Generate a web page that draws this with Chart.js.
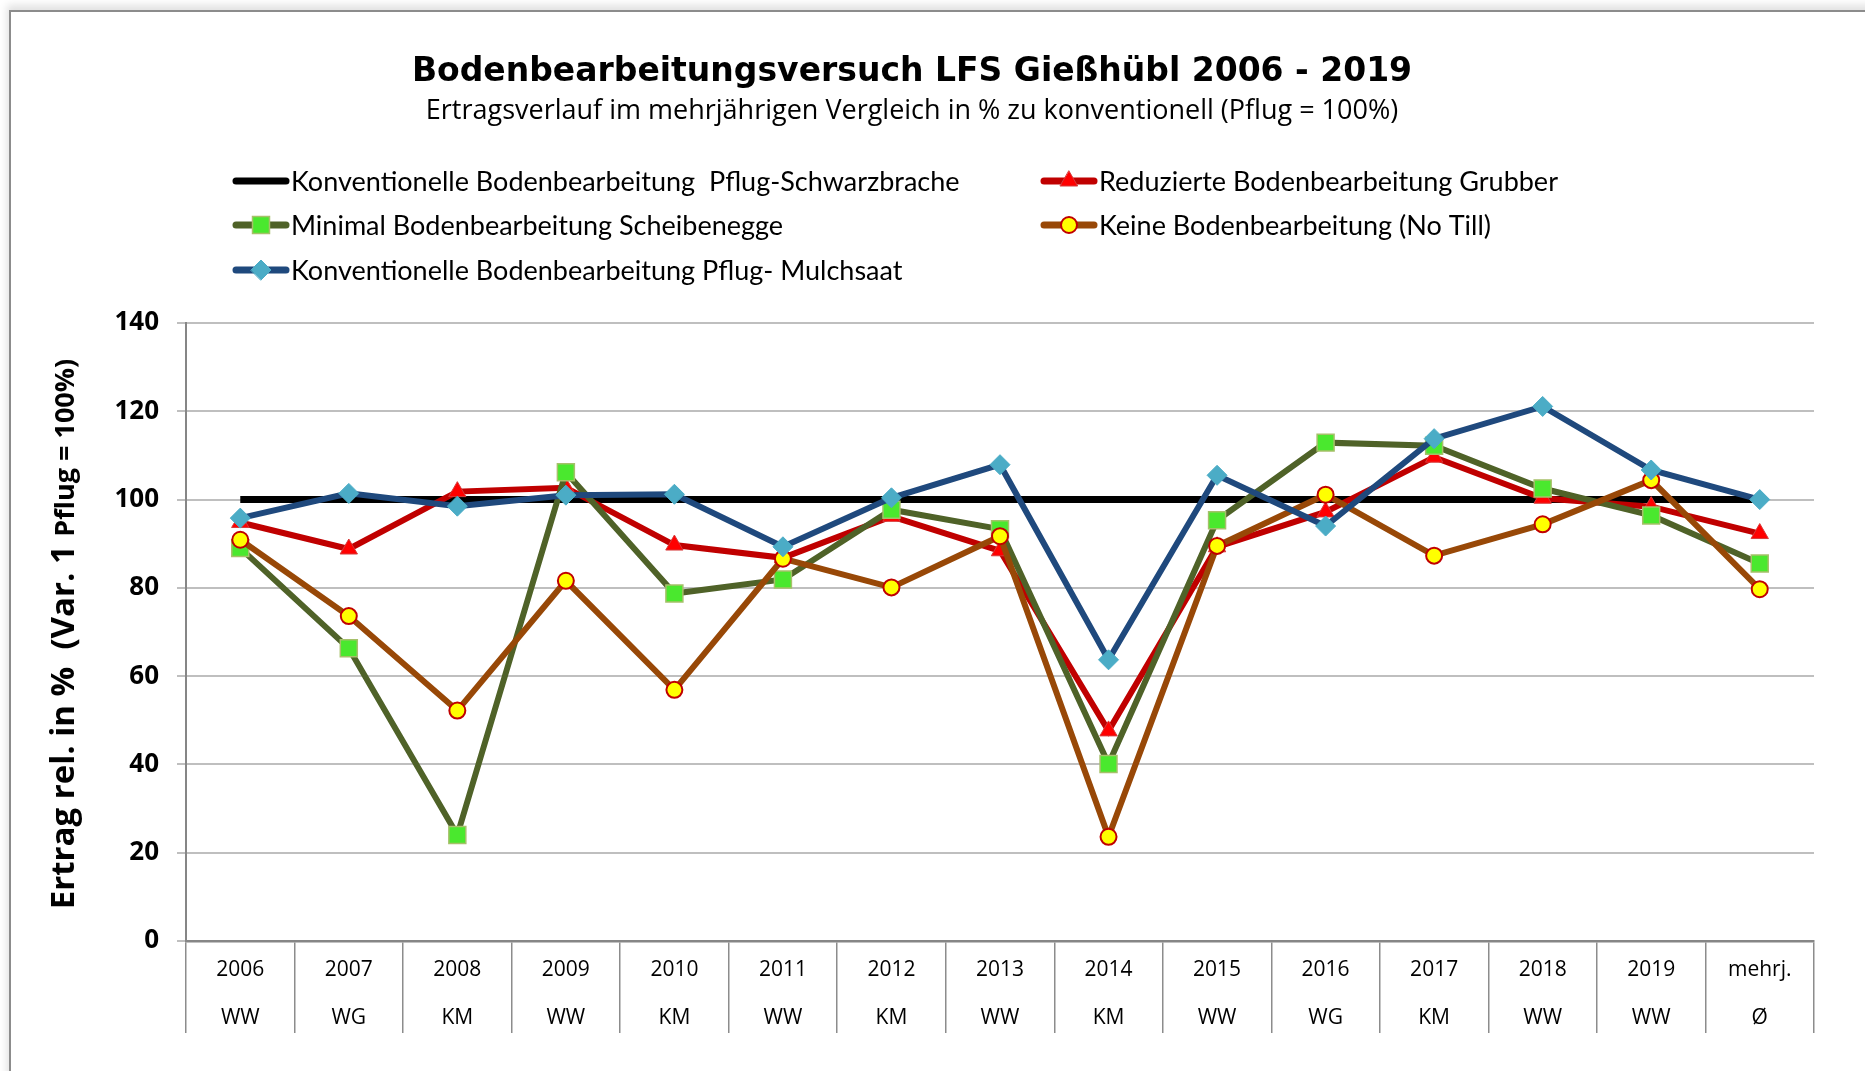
<!DOCTYPE html>
<html lang="de">
<head>
<meta charset="utf-8">
<title>Bodenbearbeitungsversuch LFS Gießhübl 2006 - 2019</title>
<script src="https://cdn.jsdelivr.net/npm/chart.js@4.4.0/dist/chart.umd.min.js"></script>
<style>
    html, body { margin: 0; padding: 0; background: #fff; overflow: hidden; }
    #rahmen {
        position: absolute; left: 9px; top: 10px; width: 1900px; height: 1100px;
        border-top: 2px solid #8c8c8c; border-left: 2px solid #8c8c8c;
        box-shadow: -2px -5px 8px rgba(0, 0, 0, 0.12);
    }
    #wrap { position: absolute; left: 0; top: 0; width: 1865px; height: 1071px; }
</style>
</head>
<body>
<div id="rahmen"></div>
<div id="wrap"><canvas id="chartErtrag" width="1865" height="1071"></canvas></div>
<script>
// ── DATEN ───────────────────────────────────────────────────────
const jahre    = ['2006', '2007', '2008', '2009', '2010', '2011', '2012', '2013', '2014', '2015', '2016', '2017', '2018', '2019', 'mehrj.']
const kulturen = ['WW', 'WG', 'KM', 'WW', 'KM', 'WW', 'KM', 'WW', 'KM', 'WW', 'WG', 'KM', 'WW', 'WW', 'Ø']

const pflugSchwarzbrache = [100, 100, 100, 100, 100, 100, 100, 100, 100, 100, 100, 100, 100, 100, 100]
const grubber            = [94.8, 88.8, 101.8, 102.7, 89.7, 86.8, 96.2, 88.4, 47.6, 89.3, 97.2, 109.6, 100.3, 98.4, 92.3]
const scheibenegge       = [89.0, 66.3, 24.0, 106.2, 78.7, 81.9, 97.7, 93.3, 40.1, 95.3, 112.9, 112.2, 102.5, 96.4, 85.5]
const noTill             = [90.9, 73.6, 52.2, 81.6, 56.9, 86.6, 80.1, 91.7, 23.6, 89.5, 101.1, 87.3, 94.4, 104.4, 79.7]
const pflugMulchsaat     = [95.8, 101.4, 98.5, 101.0, 101.2, 89.3, 100.4, 107.9, 63.7, 105.5, 94.0, 113.8, 121.1, 106.7, 100.0]

const yMin = 0, yMax = 140, ySchritt = 20

// ── LEGENDE (Excel-Stil: Linie mit Marker) ──────────────────────
const legendePlugin = {
    id: 'legendeExcel',
    afterDraw(chart) {
        const ctx = chart.ctx
        const plaetze = [[232, 181], [1040, 181], [232, 225], [1040, 225], [232, 270]]
        chart.data.datasets.forEach((ds, i) => {
            const [x, y] = plaetze[i]
            ctx.save()
            ctx.strokeStyle = ds.borderColor
            ctx.lineWidth = 7
            ctx.lineCap = 'round'
            ctx.beginPath()
            ctx.moveTo(x + 4, y)
            ctx.lineTo(x + 54, y)
            ctx.stroke()
            if (ds.pointRadius > 0) {
                ctx.fillStyle = ds.pointBackgroundColor
                ctx.strokeStyle = ds.pointBorderColor
                ctx.lineWidth = ds.pointBorderWidth
                Chart.helpers.drawPoint(ctx, { pointStyle: ds.pointStyle, radius: ds.pointRadius, borderWidth: ds.pointBorderWidth, rotation: 0 }, x + 29, y)
            }
            ctx.fillStyle = '#000'
            ctx.font = '27px Lato'
            ctx.textBaseline = 'middle'
            ctx.fillText(ds.label, x + 59, y + 1)
            ctx.restore()
        })
    }
}

// ── Y-ACHSENTITEL (zwei Schriftgrößen) ──────────────────────────
const yTitelPlugin = {
    id: 'yTitel',
    afterDraw(chart) {
        const ctx = chart.ctx
        const ca = chart.chartArea
        const teile = [
            ['Ertrag rel. in %  (Var. 1 ', 'bold 33px "Open Sans"'],
            ['Pflug = 100%)', 'bold 27px "Open Sans"']
        ]
        ctx.save()
        let gesamt = 0
        teile.forEach(([t, f]) => { ctx.font = f; gesamt += ctx.measureText(t).width })
        ctx.translate(74, (ca.top + ca.bottom) / 2 + 2)
        ctx.rotate(-Math.PI / 2)
        ctx.fillStyle = '#000'
        ctx.textBaseline = 'alphabetic'
        let x = -gesamt / 2
        teile.forEach(([t, f]) => { ctx.font = f; ctx.fillText(t, x, 0); x += ctx.measureText(t).width })
        ctx.restore()
    }
}

// ── DIAGRAMM ────────────────────────────────────────────────────
const chartErtrag = new Chart(document.getElementById('chartErtrag').getContext('2d'), {
    type: 'line',
    data: {
        labels: jahre.map((j, i) => [j, kulturen[i]]),
        datasets: [
            { label: 'Konventionelle Bodenbearbeitung  Pflug-Schwarzbrache', data: pflugSchwarzbrache, borderColor: '#000000', borderWidth: 7, pointRadius: 0, order: 5 },
            { label: 'Reduzierte Bodenbearbeitung Grubber', data: grubber, borderColor: '#c00000', borderWidth: 6, pointStyle: 'triangle', pointRadius: 10, pointBackgroundColor: '#ff0000', pointBorderColor: '#d63a3a', pointBorderWidth: 1, order: 4 },
            { label: 'Minimal Bodenbearbeitung Scheibenegge', data: scheibenegge, borderColor: '#4f6228', borderWidth: 6, pointStyle: 'rect', pointRadius: 12, pointBackgroundColor: '#4ae82e', pointBorderColor: '#a6c06a', pointBorderWidth: 1.5, order: 3 },
            { label: 'Keine Bodenbearbeitung (No Till)', data: noTill, borderColor: '#984807', borderWidth: 6, pointStyle: 'circle', pointRadius: 8, pointBackgroundColor: '#ffff00', pointBorderColor: '#c00000', pointBorderWidth: 2, order: 2 },
            { label: 'Konventionelle Bodenbearbeitung Pflug- Mulchsaat', data: pflugMulchsaat, borderColor: '#1f497d', borderWidth: 6, pointStyle: 'rectRot', pointRadius: 10, pointBackgroundColor: '#4bacc6', pointBorderColor: '#4bacc6', pointBorderWidth: 1, order: 1 }
        ]
    },
    options: {
        responsive: false,
        animation: false,
        layout: { padding: { left: 10, right: 51, top: 0, bottom: 0 } },
        elements: { line: { tension: 0 } },
        plugins: {
            legend: { display: false },
            tooltip: { enabled: false },
            title: {
                display: true,
                text: 'Bodenbearbeitungsversuch LFS Gießhübl 2006 - 2019',
                color: '#000',
                font: { family: 'DejaVu Sans', size: 33, weight: 'bold' },
                padding: { top: 53, bottom: 3 }
            },
            subtitle: {
                display: true,
                text: 'Ertragsverlauf im mehrjährigen Vergleich in % zu konventionell (Pflug = 100%)',
                color: '#000',
                font: { family: 'Open Sans', size: 27 },
                padding: { top: 0, bottom: 195 }
            }
        },
        scales: {
            x: {
                offset: true,
                grid: { display: true, drawOnChartArea: false, drawTicks: true, tickLength: 92, offset: true, color: '#8c8c8c', lineWidth: 1.5 },
                border: { display: true, color: '#868686', width: 2.5 },
                ticks: { color: '#000', font: { family: 'Open Sans', size: 21, lineHeight: 2.3 }, padding: -87, maxRotation: 0, autoSkip: false },
                afterFit: s => { s.height = 130 }
            },
            y: {
                min: yMin,
                max: yMax,
                grid: { color: '#bfbfbf', lineWidth: 2, drawTicks: true, tickLength: 9 },
                border: { display: true, color: '#868686', width: 2 },
                ticks: { stepSize: ySchritt, color: '#000', font: { family: 'Open Sans', size: 26, weight: 'bold' }, padding: 18 },
                afterFit: s => { s.width = 176 }
            }
        }
    },
    plugins: [legendePlugin, yTitelPlugin]
})
</script>
</body>
</html>
